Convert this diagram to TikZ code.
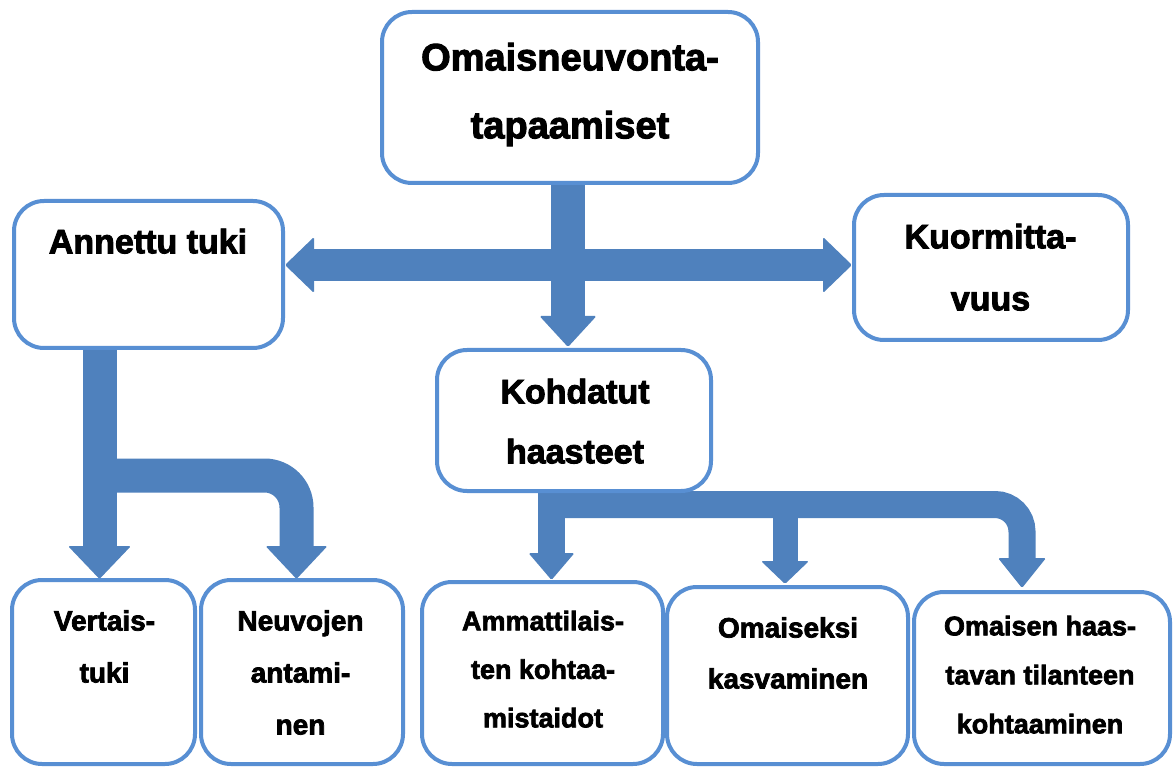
\documentclass[tikz,border=0pt]{standalone}
\usepackage{fontspec}
\setmainfont{Liberation Sans}[BoldFeatures={FakeBold=2.6}]
\usetikzlibrary{calc}
\definecolor{arrowc}{HTML}{4F81BD}
\definecolor{boxc}{HTML}{588FD3}
\newcommand\headdown[3]{\fill[arrowc, rounded corners=1.5pt] ($(#1)+(-#2,-#3)$) -- ($(#1)+(#2,-#3)$) -- (#1) -- cycle;}
\newcommand\headleft[3]{\fill[arrowc, rounded corners=1.5pt] ($(#1)+(#3,-#2)$) -- ($(#1)+(#3,#2)$) -- (#1) -- cycle;}
\newcommand\headright[3]{\fill[arrowc, rounded corners=1.5pt] ($(#1)+(-#3,-#2)$) -- ($(#1)+(-#3,#2)$) -- (#1) -- cycle;}
\begin{document}
\begin{tikzpicture}[x=1pt,y=-1pt,
  box/.style={draw=boxc, line width=4pt, rounded corners=30pt, fill=white, inner sep=0pt, outer sep=0pt},
  txt/.style={align=center, inner sep=0pt, anchor=north},
  shaft/.style={draw=arrowc, line cap=butt},
  big/.style={font=\bfseries\fontsize{38}{68}\selectfont},
  mid/.style={font=\bfseries\fontsize{34}{61}\selectfont},
  small/.style={font=\bfseries\fontsize{27.5}{51}\selectfont}]
\fill[white] (0,0) rectangle (1173,767);
\useasboundingbox (0,0) rectangle (1173,767);

% boxes (positions only, drawn later)
\path
  node[box, minimum width=376pt, minimum height=171pt, draw=none, fill=none] (top) at (570,97.5) {}
  node[box, minimum width=269pt, minimum height=147pt, draw=none, fill=none] (ann) at (148.5,274.5) {}
  node[box, minimum width=274pt, minimum height=145pt, draw=none, fill=none] (kuo) at (991,267.5) {}
  node[box, minimum width=274pt, minimum height=141pt, draw=none, fill=none] (koh) at (574,420.5) {};

% arrow: top -> Kohdatut
\coordinate (tipA) at (568,347);
\draw[shaft, line width=34pt] (top.south -| tipA) -- ($(tipA)+(0,-30)$);
\headdown{tipA}{28.5}{31}

% double arrow
\coordinate (tipL) at (285,265);
\coordinate (tipR) at (852,265);
\draw[shaft, line width=32pt] ($(tipL)+(27,0)$) -- ($(tipR)+(-27,0)$);
\headleft{tipL}{28}{29}
\headright{tipR}{28}{29}

% arrow: Annettu tuki -> two
\coordinate (tipB1) at (99.5,579);
\coordinate (tipB2) at (296.5,579);
\draw[shaft, line width=34pt] (ann.south -| tipB1) -- ($(tipB1)+(0,-32)$);
\draw[shaft, line width=34pt, rounded corners=32pt] (99.5,475.5) -| ($(tipB2)+(0,-32)$);
\headdown{tipB1}{31.5}{33}
\headdown{tipB2}{31}{33}

% arrow: Kohdatut -> three
\coordinate (tipC1) at (551.5,580);
\coordinate (tipC2) at (785,584);
\coordinate (tipC3) at (1022,588);
\draw[shaft, line width=27pt] (koh.south -| tipC1) -- ($(tipC1)+(0,-26)$);
\draw[shaft, line width=27pt, rounded corners=27pt] ($(koh.south -| tipC1)+(0,13.5)$) -| ($(tipC3)+(0,-29)$);
\draw[shaft, line width=25pt] ($(koh.south -| tipC2)+(0,13.5)$) -- ($(tipC2)+(0,-22)$);
\headdown{tipC1}{23}{27}
\headdown{tipC2}{24}{23}
\headdown{tipC3}{24}{30}

% boxes
\node[box, minimum width=376pt, minimum height=171pt] (topb) at (top) {};
\node[box, minimum width=269pt, minimum height=147pt] (annb) at (ann) {};
\node[box, minimum width=274pt, minimum height=145pt] (kuob) at (kuo) {};
\node[box, minimum width=274pt, minimum height=141pt] (kohb) at (koh) {};
\node[box, minimum width=183pt, minimum height=184pt] (ver) at (103.5,672) {};
\node[box, minimum width=202pt, minimum height=184pt] (neu) at (302,672) {};
\node[box, minimum width=241pt, minimum height=182pt] (amm) at (542.5,673) {};
\node[box, minimum width=241pt, minimum height=177pt] (oma) at (787.5,675.5) {};
\node[box, minimum width=256pt, minimum height=172pt] (ohs) at (1042,678) {};

% texts
\node[txt, big] (ttop) at (570,42.6) {Omaisneuvonta-\\tapaamiset};
\node[txt, mid] (tann) at (148,228.5) {Annettu tuki};
\node[txt, mid, font=\bfseries\fontsize{34}{62}\selectfont] (tkuo) at (990.5,223.5) {Kuormitta-\\vuus};
\node[txt, mid, font=\bfseries\fontsize{34}{60}\selectfont] (tkoh) at (575,378.5) {Kohdatut\\haasteet};
\node[txt, font=\bfseries\fontsize{28}{52}\selectfont] (tver) at (104.5,610) {Vertais-\\tuki};
\node[txt, font=\bfseries\fontsize{28}{52}\selectfont] (tneu) at (300.5,610) {Neuvojen\\antami-\\nen};
\node[txt, font=\bfseries\fontsize{27}{48.5}\selectfont] (tamm) at (543,610.6) {Ammattilais-\\ten kohtaa-\\mistaidot};
\node[txt, font=\bfseries\fontsize{28}{51}\selectfont] (toma) at (788,617) {Omaiseksi\\kasvaminen};
\node[txt, font=\bfseries\fontsize{27}{49}\selectfont] (tohs) at (1040,615.6) {Omaisen haas-\\tavan tilanteen\\kohtaaminen};
\end{tikzpicture}
\end{document}
